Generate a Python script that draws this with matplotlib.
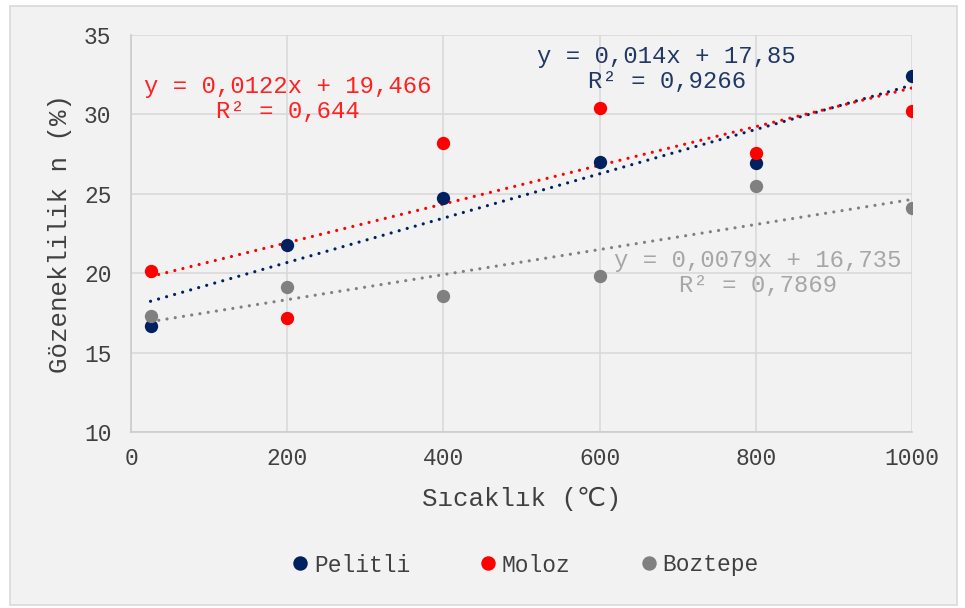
import numpy as np
import matplotlib.pyplot as plt
from matplotlib.lines import Line2D
from matplotlib.patches import Rectangle

# data
sicaklik = [25, 200, 400, 600, 800, 1000]
pelitli = [16.67, 21.78, 24.74, 27.0, 26.95, 32.39]
moloz = [20.14, 17.2, 28.22, 30.42, 27.57, 30.21]
boztepe = [17.3, 19.15, 18.58, 19.8, 25.47, 24.1]

series_names = ['Pelitli', 'Moloz', 'Boztepe']
series_colors = ['#002060', '#ff0000', '#808080']
label_colors = ['#203864', '#ff2020', '#a6a6a6']
equations = ['y = 0,014x + 17,85\nR² = 0,9266',
             'y = 0,0122x + 19,466\nR² = 0,644',
             'y = 0,0079x + 16,735\nR² = 0,7869']
# where the equation labels sit (data coords)
eq_pos = [(686, 32.85), (201, 30.95), (803, 20.0)]

plt.rcParams['font.family'] = ['Liberation Mono', 'DejaVu Sans']
text_col = '#404040'

fig = plt.figure(figsize=(9.65, 6.08), dpi=100, facecolor='white')
fig.patches.append(Rectangle((10 / 965, 3 / 608), 947 / 965, 599 / 608, transform=fig.transFigure,
                             facecolor='#f2f2f2', edgecolor='#d9d9d9', lw=1.2, zorder=-10))
ax = fig.add_axes([131 / 965, 1 - 432 / 608, 781 / 965, 397 / 608])
ax.set_facecolor('none')

x = np.array(sicaklik)
for ys, col in zip([pelitli, moloz, boztepe], series_colors):
    k, b = np.polyfit(x, ys, 1)
    xs = np.array([x.min(), x.max()])
    ax.plot(xs, k * xs + b, color=col, lw=2.3, linestyle=(0, (0.01, 2.6)),
            dash_capstyle='round', zorder=2)

for ys, col in zip([pelitli, moloz, boztepe], series_colors):
    ax.scatter(x, ys, s=92, color=col, zorder=3, linewidths=0)

for (px, py), eq, col in zip(eq_pos, equations, label_colors):
    ax.text(px, py, eq, color=col, fontsize=17.2, ha='center', va='center',
            linespacing=1.13, zorder=4)

ax.set_xlim(0, 1000)
ax.set_ylim(10, 35)
ax.set_xticks(range(0, 1001, 200))
ax.set_yticks(range(10, 36, 5))
ax.grid(True, color='#d9d9d9', lw=1.2, zorder=0)
ax.set_axisbelow(True)
for s in ['top', 'right']:
    ax.spines[s].set_visible(False)
for s in ['left', 'bottom']:
    ax.spines[s].set_color('#cccccc')
    ax.spines[s].set_linewidth(1.2)
ax.tick_params(length=0, labelsize=16.5, labelcolor=text_col)
ax.tick_params(axis='x', pad=11)
ax.tick_params(axis='y', pad=14)

ax.set_xlabel('Sıcaklık (℃)', fontsize=18.5, color=text_col, labelpad=12)
ax.set_ylabel('Gözeneklilik n (%)', fontsize=18.5, color=text_col, labelpad=9)

handles = [Line2D([], [], marker='o', ls='none', color=c, markersize=9.4) for c in series_colors]
fig.legend(handles, series_names, loc='center', bbox_to_anchor=(526 / 965, 1 - 565 / 608), ncol=3,
           frameon=False, fontsize=16.5, handlelength=0.6, handletextpad=0.3,
           columnspacing=3.1, labelcolor=text_col)

fig.savefig('out.png', dpi=100, facecolor='white')
